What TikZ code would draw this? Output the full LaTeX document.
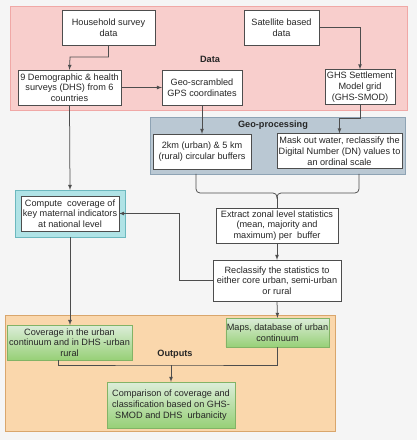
\documentclass[tikz,border=0pt]{standalone}
\usepackage{fontspec}
\setmainfont{Liberation Sans}
\usetikzlibrary{positioning}

\definecolor{bgcol}{HTML}{F5F5F5}
\definecolor{linecol}{HTML}{4D4D4D}
\definecolor{datafill}{HTML}{F8CECC}
\definecolor{datadraw}{HTML}{F0A8A6}
\definecolor{geofill}{HTML}{BAC8D3}
\definecolor{geodraw}{HTML}{8EA3B4}
\definecolor{natfill}{HTML}{B0E3E6}
\definecolor{natdraw}{HTML}{6CB8BE}
\definecolor{outfill}{HTML}{FAD7AC}
\definecolor{outdraw}{HTML}{D9A66C}
\definecolor{greentop}{HTML}{DCEDD9}
\definecolor{greenbot}{HTML}{97D077}
\definecolor{greendraw}{HTML}{82B366}

\tikzset{
    box/.style={rectangle, draw=linecol, fill=white, align=center,
        inner sep=1bp, text=black!85,
        font=\fontsize{9.2}{10.8}\selectfont},
    greenbox/.style={box, draw=greendraw, top color=greentop,
        bottom color=greenbot},
    panel/.style={rectangle, line width=0.8bp},
    heading/.style={font=\fontsize{9.2}{10.8}\selectfont\bfseries,
        text=black!85}
}

\begin{document}
\begin{tikzpicture}[x=1bp, y=-1bp]

        % Background
        \fill[bgcol] (0,0) rectangle (417,440);
        \useasboundingbox (0,0) rectangle (417,440);

        % Add the panels
        \draw[panel, fill=datafill, draw=datadraw] (10,6) rectangle (407,110);
        \draw[panel, fill=geofill, draw=geodraw] (150,117) rectangle (405,174);
        \draw[panel, fill=natfill, draw=natdraw] (15,190) rectangle (125,237);
        \draw[panel, fill=outfill, draw=outdraw] (5,315) rectangle (335,431);

        \node[heading] (data_lbl) at (210,59) {Data};
        \node[heading] (geo_lbl) at (273,125) {Geo-processing};
        \node[heading] (out_lbl) at (175,354) {Outputs};

        % Add the boxes
        \node[box, minimum width=93, minimum height=35] (house) at (108.5,27.5)
            {Household survey\\data};
        \node[box, minimum width=75, minimum height=35] (sat) at (281.5,27.5)
            {Satellite based\\data};
        \node[box, minimum width=103, minimum height=35] (dhs) at (69.5,87.5)
            {9 Demographic \& health\\surveys (DHS) from 6\\countries};
        \node[box, minimum width=80, minimum height=35] (gps) at (202,87.5)
            {Geo-scrambled\\GPS coordinates};
        \node[box, minimum width=70, minimum height=35] (smod) at (360,87)
            {GHS Settlement\\Model grid\\(GHS-SMOD)};
        \node[box, minimum width=98, minimum height=35] (buffers) at (202,151.5)
            {2km (urban) \& 5 km\\(rural) circular buffers};
        \node[box, minimum width=125, minimum height=35] (mask) at (339.5,151)
            {Mask out water, reclassify the\\Digital Number (DN) values to\\an ordinal scale};
        \node[box, minimum width=98, minimum height=35] (national) at (70,213.5)
            {Compute\ \ coverage of\\key maternal indicators\\at national level};
        \node[box, minimum width=122, minimum height=35] (zonal) at (277,225.5)
            {Extract zonal level statistics\\(mean, majority and\\maximum) per\ \ buffer};
        \node[box, minimum width=128, minimum height=41] (reclass) at (277,280.5)
            {Reclassify the statistics to\\either core urban, semi-urban\\or rural};
        \node[greenbox, minimum width=125, minimum height=35] (cover) at (69.5,342.5)
            {Coverage in the urban\\continuum and in DHS -urban\\rural};
        \node[greenbox, minimum width=103, minimum height=29] (maps) at (277.5,332.5)
            {Maps, database of urban\\continuum};
        \node[greenbox, minimum width=128, minimum height=46] (compare) at (171,405)
            {Comparison of coverage and\\classification based on GHS-\\SMOD and DHS\ \ urbanicity};

        % Helper points
        \coordinate (brace) at (277,197);
        \coordinate (join) at (171,365);

        % Connect the boxes with arrows
        \draw[->, >=latex, line width=0.75bp, draw=linecol]
            (house.south) |- (70,57) -- (dhs.north);
        \draw[->, >=latex, line width=0.75bp, draw=linecol]
            (sat.east) -| (smod.north);
        \draw[->, >=latex, line width=0.75bp, draw=linecol]
            (dhs.east) -- (gps.west);
        \draw[->, >=latex, line width=0.75bp, draw=linecol]
            (gps.south) -- (buffers.north);
        \draw[->, >=latex, line width=0.75bp, draw=linecol]
            (smod.south) -- (360,118) -| (mask.north);
        \draw[->, >=latex, line width=0.75bp, draw=linecol]
            (dhs.south) -- (70,190);
        \draw[->, >=latex, line width=0.75bp, draw=linecol]
            (70,237) -- (70,325);
        \draw[->, >=latex, line width=0.75bp, draw=linecol]
            (reclass.west) -- (179,280.5) |- (national.east);
        \draw[->, >=latex, line width=0.75bp, draw=linecol]
            (zonal.south) -- (reclass.north);
        \draw[->, >=latex, line width=0.75bp, draw=linecol]
            (reclass.south) -- (maps.north);
        \draw[->, >=latex, line width=0.75bp, draw=linecol]
            (join) -- (compare.north);

        % Brace under the geo-processing boxes
        \draw[line width=0.75bp, draw=linecol, rounded corners=4bp]
            (196,174) -- (196,193) -- (277,193) -- (brace);
        \draw[line width=0.75bp, draw=linecol, rounded corners=4bp]
            (359,174) -- (359,193) -- (277,193) -- (brace);
        \draw[line width=0.75bp, draw=linecol] (brace) -- (zonal.north);

        % Join of the two outputs
        \draw[line width=0.75bp, draw=linecol]
            (58,360) |- (join) -| (maps.south);

\end{tikzpicture}
\end{document}
